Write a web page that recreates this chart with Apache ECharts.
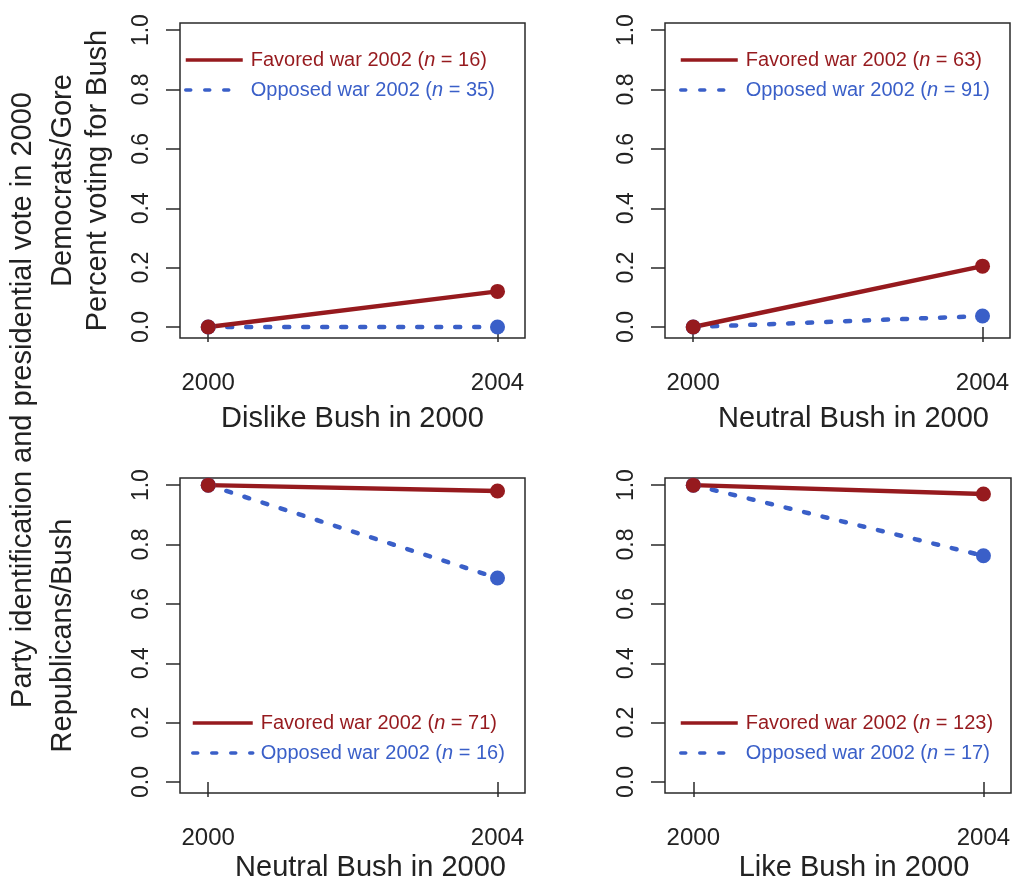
<!DOCTYPE html>
<html>
<head>
<meta charset="utf-8">
<script src="https://cdn.jsdelivr.net/npm/echarts@6/dist/echarts.min.js"></script>
<style>
  html, body { margin: 0; padding: 0; background: #fff; }
  #chart { width: 1013px; height: 879px; }
</style>
</head>
<body>
<div id="chart"></div>
<script>
// x positions (survey years)
const years = [2000, 2004];
const yTicks = [0, 0.2, 0.4, 0.6, 0.8, 1.0];

// panel titles (x axis names)
const panelTitles = ['Dislike Bush in 2000', 'Neutral Bush in 2000', 'Neutral Bush in 2000', 'Like Bush in 2000'];

// sample sizes
const favoredN = [16, 63, 71, 123];
const opposedN = [35, 91, 16, 17];

// share voting for Bush / identifying Republican, 2000 -> 2004
const dislikeFavored = [0, 0.12];
const dislikeOpposed = [0, 0];
const neutralDemFavored = [0, 0.205];
const neutralDemOpposed = [0, 0.037];
const neutralRepFavored = [1, 0.98];
const neutralRepOpposed = [1, 0.687];
const likeFavored = [1, 0.97];
const likeOpposed = [1, 0.762];

const favoredData = [dislikeFavored, neutralDemFavored, neutralRepFavored, likeFavored];
const opposedData = [dislikeOpposed, neutralDemOpposed, neutralRepOpposed, likeOpposed];

const RED = '#961a1e';
const BLUE = '#3a5fc8';
const INK = '#222';
const FONT = 'Liberation Sans, Arial, sans-serif';

const grids = [
  { left: 180, top: 23, width: 345, height: 315 },
  { left: 665, top: 23, width: 345, height: 315 },
  { left: 180, top: 478, width: 345, height: 315 },
  { left: 665, top: 478, width: 346, height: 315 }
];
const legendPos = [
  { left: 184, top: 50, itemWidth: 57 },
  { left: 679, top: 50, itemWidth: 57 },
  { left: 191, top: 713, itemWidth: 60 },
  { left: 679, top: 713, itemWidth: 57 }
];
const titleShift = [0, 16, 18, 16];
const titleGap = [66, 66, 60, 60];
const labelMargin = [33, 33, 33, 33];
const yNames = ['Democrats/Gore\nPercent voting for Bush', '', 'Republicans/Bush', ''];
const yNameGap = [65, 0, 100, 0];

const favName = i => 'Favored war 2002 (n = ' + favoredN[i] + ')';
const oppName = i => 'Opposed war 2002 (n = ' + opposedN[i] + ')';
const toPoints = vals => years.map((yr, k) => [yr, vals[k]]);

const chart = echarts.init(document.getElementById('chart'));

const option = {
  animation: false,
  textStyle: { fontFamily: FONT },
  grid: grids.map(g => Object.assign({
    show: true,
    borderColor: '#2a2a2a',
    borderWidth: 1.5,
    backgroundColor: 'transparent',
    containLabel: false,
    outerBoundsMode: 'none'
  }, g)),
  xAxis: grids.map((g, i) => ({
    type: 'value',
    gridIndex: i,
    min: 1999.61,
    max: 2004.38,
    name: panelTitles[i],
    nameLocation: 'middle',
    nameGap: titleGap[i],
    nameTextStyle: {
      fontSize: 29, color: INK, fontFamily: FONT,
      padding: [0, 0, 0, titleShift[i] * 2]
    },
    axisLine: { show: false },
    splitLine: { show: false },
    axisTick: { show: true, length: 15, customValues: years, lineStyle: { color: '#2a2a2a', width: 1.5 } },
    axisLabel: {
      customValues: years,
      margin: labelMargin[i],
      fontSize: 24,
      color: INK,
      fontFamily: FONT,
      formatter: v => String(v)
    }
  })),
  yAxis: grids.map((g, i) => ({
    type: 'value',
    gridIndex: i,
    min: -0.037,
    max: 1.024,
    name: yNames[i],
    nameLocation: 'middle',
    nameRotate: 90,
    nameGap: yNameGap[i],
    nameTextStyle: { fontSize: 29, color: INK, fontFamily: FONT, lineHeight: 35 },
    axisLine: { show: false },
    splitLine: { show: false },
    axisTick: { show: true, length: 14, customValues: yTicks, lineStyle: { color: '#2a2a2a', width: 1.5 } },
    axisLabel: {
      customValues: yTicks,
      rotate: 90,
      margin: 27,
      fontSize: 23,
      color: INK,
      fontFamily: FONT,
      formatter: v => v.toFixed(1)
    }
  })),
  legend: legendPos.map((p, i) => ({
    left: p.left,
    top: p.top,
    orient: 'vertical',
    itemWidth: p.itemWidth,
    itemHeight: 20,
    itemGap: 10,
    selectedMode: false,
    padding: 0,
    itemStyle: { opacity: 0 },
    lineStyle: { width: 3.5 },
    data: [
      { name: favName(i), textStyle: { color: RED } },
      { name: oppName(i), textStyle: { color: BLUE, padding: [0, 0, 0, 3] } }
    ],
    formatter: name => {
      const tag = name.indexOf('Favored') === 0 ? 'r' : 'b';
      return name.replace('(n', '({' + tag + '|n}');
    },
    textStyle: {
      fontSize: 20,
      fontFamily: FONT,
      padding: [0, 0, 0, 3],
      rich: {
        r: { fontSize: 20, fontFamily: FONT, fontStyle: 'italic', color: RED },
        b: { fontSize: 20, fontFamily: FONT, fontStyle: 'italic', color: BLUE }
      }
    }
  })),
  graphic: [{
    type: 'text',
    x: 23,
    y: 400,
    rotation: Math.PI / 2,
    style: {
      text: 'Party identification and presidential vote in 2000',
      font: '29px ' + FONT,
      fill: INK,
      textAlign: 'center',
      textVerticalAlign: 'middle'
    }
  }],
  series: []
};

grids.forEach((g, i) => {
  option.series.push({
    name: oppName(i),
    type: 'line',
    xAxisIndex: i,
    yAxisIndex: i,
    data: toPoints(opposedData[i]),
    symbol: 'circle',
    symbolSize: 15,
    itemStyle: { color: BLUE },
    lineStyle: { color: BLUE, width: 4.5, type: [5, 14], cap: 'round' },
    silent: true
  });
  option.series.push({
    name: favName(i),
    type: 'line',
    xAxisIndex: i,
    yAxisIndex: i,
    data: toPoints(favoredData[i]),
    symbol: 'circle',
    symbolSize: 15,
    itemStyle: { color: RED },
    lineStyle: { color: RED, width: 4.5 },
    silent: true
  });
});

chart.setOption(option);
</script>
</body>
</html>
